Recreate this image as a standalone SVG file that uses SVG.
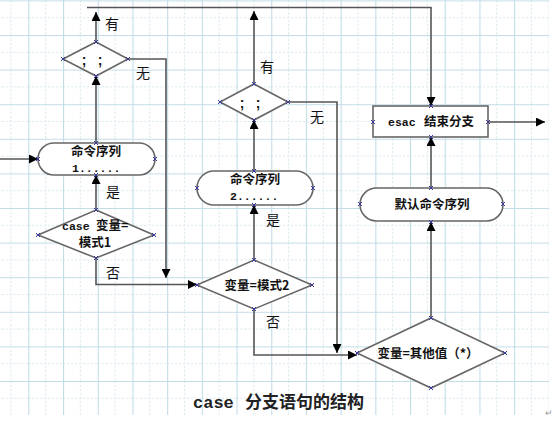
<svg xmlns="http://www.w3.org/2000/svg" width="554" height="424" viewBox="0 0 554 424">
<style>
.shape{fill:#fff;stroke:#666;stroke-width:1.6}
.conn{fill:none;stroke:#555;stroke-width:1.6}
.nt{font-family:"Noto Sans CJK SC","Liberation Sans",sans-serif;font-weight:bold;font-size:12.5px;fill:#111;text-anchor:middle}
.lat{font-family:"Liberation Mono","Noto Sans CJK SC",monospace;font-weight:bold;font-size:11.5px;fill:#111}
.st{text-anchor:start}
.lb{font-family:"Noto Sans CJK SC","Liberation Sans",sans-serif;font-size:14px;fill:#111;text-anchor:middle}
.sc{font-family:"Liberation Sans",sans-serif;font-weight:bold;font-size:14px;fill:#111;text-anchor:middle}
.cp{stroke:#3a3a9a;stroke-width:1;fill:none}
</style>
<defs>
<pattern id="grid" patternUnits="userSpaceOnUse" x="28.3" y="0.4" width="34.7" height="34.6">
<rect width="34.7" height="34.6" fill="#fff"/>
<line x1="17.35" y1="0" x2="17.35" y2="34.6" stroke="#d6e7ee" stroke-width="1" stroke-dasharray="2,2"/>
<line x1="0" y1="17.3" x2="34.7" y2="17.3" stroke="#d6e7ee" stroke-width="1" stroke-dasharray="2,2"/>
<line x1="0.5" y1="0" x2="0.5" y2="34.6" stroke="#c3dde7" stroke-width="1.2"/>
<line x1="0" y1="0.5" x2="34.7" y2="0.5" stroke="#c3dde7" stroke-width="1.2"/>
</pattern>
<marker id="ah" viewBox="0 0 10 10" refX="10" refY="5" markerWidth="9" markerHeight="9" markerUnits="userSpaceOnUse" orient="auto">
<path d="M0,0 L10,5 L0,10 z" fill="#000"/>
</marker>
<symbol id="x" viewBox="-3 -3 6 6" width="6" height="6" overflow="visible">
<path class="cp" d="M-2,-2 L2,2 M-2,2 L2,-2"/>
</symbol>
</defs>

<rect x="0" y="0" width="554" height="424" fill="#fff"/>
<rect x="0" y="0" width="549" height="415" fill="url(#grid)"/>

<g id="connectors">
<path class="conn" d="M0,159 H38" marker-end="url(#ah)"/>
<path class="conn" d="M96,143 V76" marker-end="url(#ah)"/>
<path class="conn" d="M96,42 V12" marker-end="url(#ah)"/>
<path class="conn" d="M87,7.5 H431 V106" marker-end="url(#ah)"/>
<path class="conn" d="M128,59 H166 V278" marker-end="url(#ah)"/>
<path class="conn" d="M96,210 V175" marker-end="url(#ah)"/>
<path class="conn" d="M96,258 V284.5 H197" marker-end="url(#ah)"/>
<path class="conn" d="M254,260 V205" marker-end="url(#ah)"/>
<path class="conn" d="M254,171 V120" marker-end="url(#ah)"/>
<path class="conn" d="M254,84 V11" marker-end="url(#ah)"/>
<path class="conn" d="M288,102 H337 V353" marker-end="url(#ah)"/>
<path class="conn" d="M254,309 V355 H357" marker-end="url(#ah)"/>
<path class="conn" d="M431,318 V222" marker-end="url(#ah)"/>
<path class="conn" d="M431,188 V137" marker-end="url(#ah)"/>
<path class="conn" d="M488,122 H545" marker-end="url(#ah)"/>
</g>

<g id="labels">
<text class="lb" x="112" y="29">有</text>
<text class="lb" x="143" y="78">无</text>
<text class="lb" x="113" y="197">是</text>
<text class="lb" x="113" y="278">否</text>
<text class="lb" x="267" y="72">有</text>
<text class="lb" x="317" y="122">无</text>
<text class="lb" x="273" y="225">是</text>
<text class="lb" x="273" y="327">否</text>
</g>

<g id="dec1">
<polygon class="shape" points="96,42 128,59 96,76 63,59"/>
<text class="sc" x="84" y="65">;</text>
<text class="sc" x="100" y="65">;</text>
<use href="#x" x="93" y="39"/><use href="#x" x="60" y="56"/><use href="#x" x="125" y="56"/><use href="#x" x="93" y="73"/>
</g>

<g id="cmd1">
<rect class="shape" x="38" y="143" width="117" height="32" rx="16"/>
<text class="nt" x="96" y="156">命令序列</text>
<text class="lat" x="72" y="172">1......</text>
<use href="#x" x="93" y="140"/><use href="#x" x="35" y="156"/><use href="#x" x="152" y="156"/><use href="#x" x="93" y="172"/>
</g>

<g id="dec2">
<polygon class="shape" points="96,210 154,235 96,258 38,235"/>
<text class="lat" x="62" y="230">case</text>
<text class="nt st" x="96" y="230" font-size="12">变量=</text>
<text class="nt" x="95" y="247" font-size="12">模式1</text>
<use href="#x" x="93" y="207"/><use href="#x" x="35" y="232"/><use href="#x" x="151" y="232"/><use href="#x" x="93" y="255"/>
</g>

<g id="dec3">
<polygon class="shape" points="254,260 312,285 254,309 197,285"/>
<text class="nt" x="257" y="290">变量=模式2</text>
<use href="#x" x="251" y="257"/><use href="#x" x="194" y="282"/><use href="#x" x="309" y="282"/><use href="#x" x="251" y="306"/>
</g>

<g id="cmd2">
<rect class="shape" x="197" y="171" width="116" height="34" rx="17"/>
<text class="nt" x="255" y="184">命令序列</text>
<text class="lat" x="230" y="200">2......</text>
<use href="#x" x="251" y="168"/><use href="#x" x="194" y="185"/><use href="#x" x="310" y="185"/><use href="#x" x="251" y="202"/>
</g>

<g id="dec4">
<polygon class="shape" points="254,84 288,102 254,120 220,102"/>
<text class="sc" x="242" y="108">;</text>
<text class="sc" x="258" y="108">;</text>
<use href="#x" x="251" y="81"/><use href="#x" x="217" y="99"/><use href="#x" x="285" y="99"/><use href="#x" x="251" y="117"/>
</g>

<g id="esac">
<rect class="shape" x="373" y="106" width="115" height="31"/>
<text class="lat" x="388" y="126">esac</text>
<text class="nt st" x="424" y="126">结束分支</text>
<use href="#x" x="428" y="103"/><use href="#x" x="370" y="119"/><use href="#x" x="485" y="119"/><use href="#x" x="428" y="134"/>
</g>

<g id="default">
<rect class="shape" x="360" y="188" width="143" height="33" rx="16.5"/>
<text class="nt" x="432" y="209" font-size="13">默认命令序列</text>
<use href="#x" x="428" y="185"/><use href="#x" x="357" y="201"/><use href="#x" x="500" y="201"/><use href="#x" x="428" y="219"/>
</g>

<g id="dec5">
<polygon class="shape" points="431,318 505,353 431,388 357,353"/>
<text class="nt" x="428" y="358">变量=其他值（*）</text>
<use href="#x" x="428" y="315"/><use href="#x" x="354" y="350"/><use href="#x" x="502" y="350"/><use href="#x" x="428" y="385"/>
</g>

<g id="title">
<text x="193" y="408" font-family="Liberation Mono, monospace" font-weight="bold" font-size="17" fill="#222">case</text>
<text x="245" y="408" font-family="Noto Sans CJK SC, sans-serif" font-weight="bold" font-size="17" fill="#222">分支语句的结构</text>
<text x="549" y="416" font-family="Liberation Sans, sans-serif" font-size="9" fill="#999" text-anchor="middle">↵</text>
</g>
</svg>
